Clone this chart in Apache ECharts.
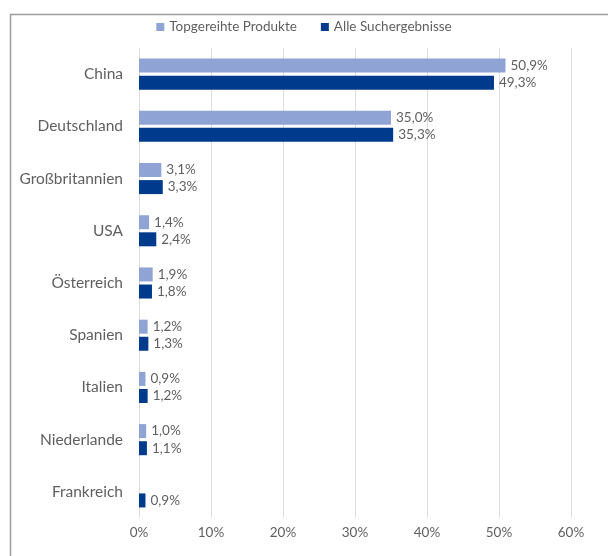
<!DOCTYPE html>
<html>
<head>
<meta charset="utf-8">
<script src="https://cdn.jsdelivr.net/npm/echarts@6/dist/echarts.min.js"></script>
<style>
  html, body { margin: 0; padding: 0; background: #fff; }
  #chart { width: 608px; height: 556px; }
</style>
</head>
<body>
<div id="chart"></div>
<script>
// Herkunftsländer der Anbieter (Anteil in %)
const countries = ['China', 'Deutschland', 'Großbritannien', 'USA', 'Österreich', 'Spanien', 'Italien', 'Niederlande', 'Frankreich'];
const topProducts = [50.9, 35.0, 3.1, 1.4, 1.9, 1.2, 0.9, 1.0, null];
const allResults = [49.3, 35.3, 3.3, 2.4, 1.8, 1.3, 1.2, 1.1, 0.9];
const seriesNames = ['Topgereihte Produkte', 'Alle Suchergebnisse'];
const xTicks = [0, 10, 20, 30, 40, 50, 60];

const font = 'Lato, "Open Sans", sans-serif';
const textGray = '#5f5f5f';

const pct = v => v.toFixed(1).replace('.', ',') + '%';

const chart = echarts.init(document.getElementById('chart'), null, { renderer: 'canvas' });

const valueLabel = {
  show: true,
  position: 'right',
  distance: 5,
  color: textGray,
  fontFamily: font,
  fontSize: 13.5,
  formatter: p => (p.value == null ? '' : pct(p.value))
};

chart.setOption({
  animation: false,
  backgroundColor: '#fff',
  graphic: [
    { type: 'line', shape: { x1: 10.5, y1: 14, x2: 10.5, y2: 556 }, style: { stroke: '#9c9c9c', lineWidth: 1.5 } },
    { type: 'line', shape: { x1: 10, y1: 14.5, x2: 608, y2: 14.5 }, style: { stroke: '#9c9c9c', lineWidth: 1.5 } }
  ],
  legend: {
    top: 15,
    left: 'center',
    itemWidth: 8,
    itemHeight: 8,
    itemGap: 24,
    icon: 'rect',
    textStyle: { color: textGray, fontFamily: font, fontSize: 13.5 },
    data: seriesNames
  },
  grid: { left: 139, right: 37, top: 48, bottom: 38, containLabel: false },
  xAxis: {
    type: 'value',
    min: xTicks[0],
    max: xTicks[xTicks.length - 1],
    interval: 10,
    axisLine: { show: false },
    axisTick: { show: false },
    splitLine: { lineStyle: { color: '#dcdcdc', width: 1 } },
    axisLabel: {
      color: textGray,
      fontFamily: font,
      fontSize: 13.5,
      margin: 8,
      formatter: v => v + '%'
    }
  },
  yAxis: {
    type: 'category',
    inverse: true,
    data: countries,
    axisLine: { show: false },
    axisTick: { show: false },
    axisLabel: { color: textGray, fontFamily: font, fontSize: 15.5, margin: 16 }
  },
  series: [
    {
      name: seriesNames[0],
      type: 'bar',
      data: topProducts,
      barWidth: 14,
      barGap: '22%',
      itemStyle: { color: '#8fa3d5' },
      label: valueLabel
    },
    {
      name: seriesNames[1],
      type: 'bar',
      data: allResults,
      barWidth: 14,
      itemStyle: { color: '#003a8c' },
      label: valueLabel
    }
  ]
});
</script>
</body>
</html>
